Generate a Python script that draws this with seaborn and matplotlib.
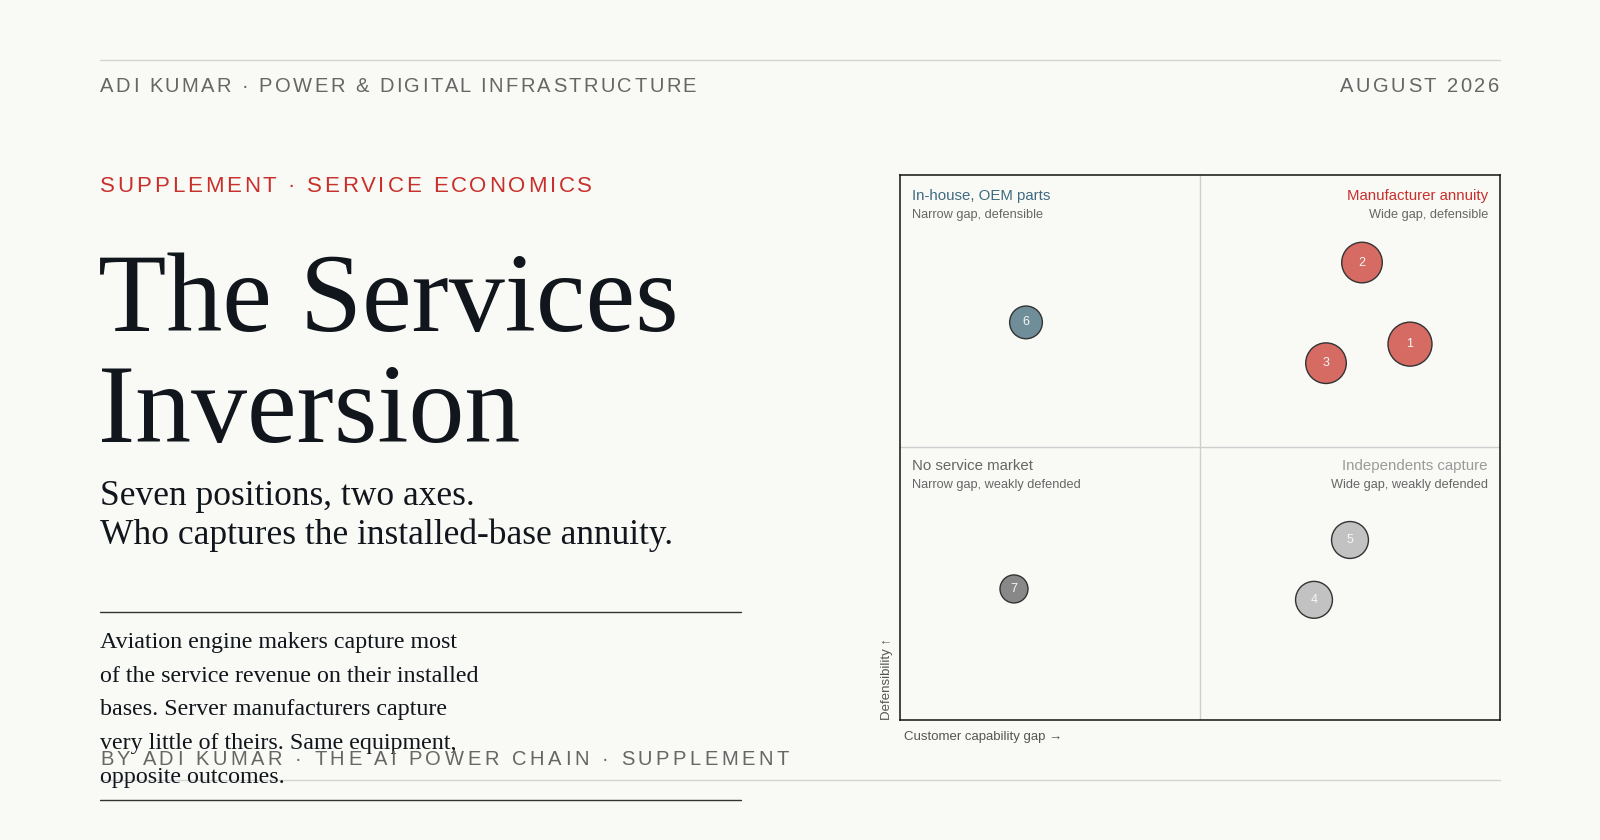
import matplotlib
matplotlib.use("Agg")
import matplotlib.pyplot as plt
from matplotlib.lines import Line2D
import pandas as pd
import seaborn as sns

# --- chart data ---
positions = ["1", "2", "3", "4", "5", "6", "7"]
capability_gap = [8.5, 7.7, 7.1, 6.9, 7.5, 2.1, 1.9]
defensibility = [6.9, 8.4, 6.55, 2.2, 3.3, 7.3, 2.4]
installed_base = [22, 20, 20, 18, 18, 16, 14]
quadrant = ["annuity", "annuity", "annuity", "independent", "independent", "inhouse", "none"]

quadrant_titles = ["In-house, OEM parts", "Manufacturer annuity", "No service market", "Independents capture"]
quadrant_notes = ["Narrow gap, defensible", "Wide gap, defensible",
                  "Narrow gap, weakly defended", "Wide gap, weakly defended"]

body_lines = [
    "Aviation engine makers capture most",
    "of the service revenue on their installed",
    "bases. Server manufacturers capture",
    "very little of theirs. Same equipment,",
    "opposite outcomes.",
]

BG = "#f9f9f6"
INK = "#11161c"
RED = "#c8302b"
TEAL = "#3e6b80"
GREY = "#666666"
palette = {"annuity": "#d56b63", "independent": "#c2c2c2", "inhouse": "#6f8e9a", "none": "#888888"}

W, H = 1600, 840

sns.set_theme(style="white")
plt.rcParams["font.family"] = ["Liberation Sans", "DejaVu Sans"]

fig = plt.figure(figsize=(16, 8.4), dpi=100, facecolor=BG)
renderer = fig.canvas.get_renderer()


def fx(px):
    return px / W


def fy(py):
    return 1 - py / H


def text_width(s, **kw):
    t = fig.text(0, 0, s, **kw)
    w = t.get_window_extent(renderer).width
    t.remove()
    return w


def tracked_text(x, y, s, track, ha="left", **kw):
    """draw letter-spaced text, char by char (x, y in pixels, y = baseline)"""
    bar = text_width("I", **kw)
    offsets = [text_width(s[:i] + "I", **kw) - bar for i in range(len(s))]
    total = text_width(s, **kw) + track * (len(s) - 1)
    start = x if ha == "left" else x - total
    for i, ch in enumerate(s):
        if ch == " ":
            continue
        fig.text(fx(start + offsets[i] + i * track), fy(y), ch, ha="left", va="baseline", **kw)


def rule(x0, x1, y, color, lw=1.0):
    fig.add_artist(Line2D([fx(x0), fx(x1)], [fy(y), fy(y)], transform=fig.transFigure,
                          color=color, lw=lw))


# header / footer
rule(100, 1500, 60, "#d4d4d4")
tracked_text(100, 92, "ADI KUMAR · POWER & DIGITAL INFRASTRUCTURE", 2.45, fontsize=14.5, color=GREY)
tracked_text(1499, 92, "AUGUST 2026", 2.6, ha="right", fontsize=14.5, color=GREY)
rule(100, 1500, 780, "#d4d4d4")

# left column
tracked_text(100, 192, "SUPPLEMENT · SERVICE ECONOMICS", 2.8, fontsize=16, color=RED)

serif = ["Liberation Serif", "DejaVu Serif"]
fig.text(fx(98), fy(331), "The Services", family=serif, fontsize=80.5, color=INK, va="baseline")
fig.text(fx(98), fy(442), "Inversion", family=serif, fontsize=80.5, color=INK, va="baseline")
fig.text(fx(100), fy(505), "Seven positions, two axes.", family=serif, fontsize=25.5, color=INK, va="baseline")
fig.text(fx(100), fy(544), "Who captures the installed-base annuity.", family=serif, fontsize=25.5,
         color=INK, va="baseline")

rule(100, 741, 612, "#333333")
for i, line in enumerate(body_lines):
    fig.text(fx(100), fy(648 + i * 33.7), line, family=serif, fontsize=17.3, color=INK, va="baseline")
rule(100, 741, 800, "#333333")

tracked_text(100, 765, "BY ADI KUMAR · THE AI POWER CHAIN · SUPPLEMENT", 3.6, fontsize=14.5, color=GREY)

# quadrant chart
ax = fig.add_axes([fx(900), fy(719.5), 600 / W, 544 / H])
ax.set_facecolor(BG)
df = pd.DataFrame({"position": positions, "gap": capability_gap, "defensibility": defensibility,
                   "base": installed_base, "quadrant": quadrant})

ax.axvline(5, color="#cfcfcf", lw=1, zorder=0)
ax.axhline(5, color="#cfcfcf", lw=1, zorder=0)

sns.scatterplot(data=df, x="gap", y="defensibility", hue="quadrant", palette=palette,
                size="base", sizes=(406, 1004), size_norm=(14, 22),
                edgecolor="#333333", linewidth=1, legend=False, ax=ax, zorder=3)

for _, row in df.iterrows():
    ax.text(row["gap"], row["defensibility"], row["position"], ha="center", va="center",
            fontsize=9, color="#f7f7f7", zorder=4)

ax.set_xlim(0, 10)
ax.set_ylim(0, 10)
ax.set_xticks([])
ax.set_yticks([])
ax.set_xlabel("")
ax.set_ylabel("")
for sp in ax.spines.values():
    sp.set_visible(True)
    sp.set_color("#111111")
    sp.set_linewidth(1.1)

title_colors = [TEAL, RED, GREY, "#9a9a9a"]
spots = [(0.02, 0.962, "left"), (0.98, 0.962, "right"), (0.02, 0.466, "left"), (0.98, 0.466, "right")]
for (qx, qy, ha), title, note, col in zip(spots, quadrant_titles, quadrant_notes, title_colors):
    ax.text(qx, qy, title, transform=ax.transAxes, ha=ha, va="center", fontsize=10.8, color=col)
    ax.text(qx, qy - 0.035, note, transform=ax.transAxes, ha=ha, va="center", fontsize=9.2, color=GREY)

ax.text(-0.022, 0, "Defensibility ↑", transform=ax.transAxes, rotation=90, ha="center", va="bottom",
        fontsize=9.5, color="#555555")
ax.text(0.007, -0.032, "Customer capability gap →", transform=ax.transAxes, ha="left", va="center",
        fontsize=9.5, color="#555555")

fig.savefig("out.png", dpi=100, facecolor=BG)
